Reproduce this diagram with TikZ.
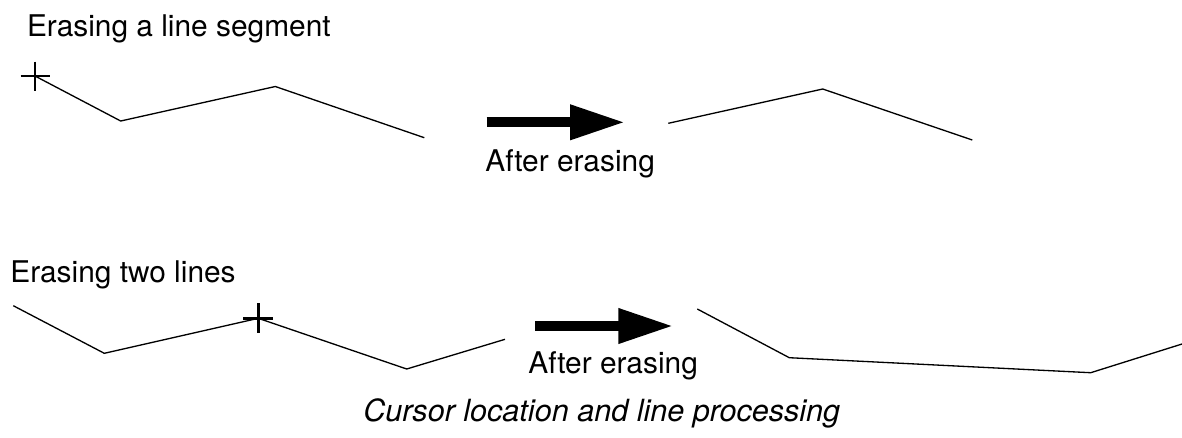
\documentclass[tikz,border=0pt]{standalone}
\usepackage{fontspec}
\setmainfont{TeX Gyre Heros}
\usepackage{tikz}
\usetikzlibrary{arrows.meta,calc}

\begin{document}
\begin{tikzpicture}[x=0.02cm, y=-0.02cm,
    every node/.style={inner sep=0pt, anchor=base west, font=\fontsize{17}{20}\selectfont},
    seg/.style={line width=0.75pt, line join=miter},
    cursor/.style={line width=1.4pt},
    bigarrow/.style={line width=0.2cm, -{Triangle[length=1.1cm, width=0.66cm]}}]
  \useasboundingbox (0,0) rectangle (1182,437);

  % labels
  \node (t1) at (26.7,36.7) {Erasing a line segment};
  \node (a1) at (485,171) {After erasing};
  \node (t2) at (10,282) {Erasing two lines};
  \node (a2) at (528,373) {After erasing};
  \node[font=\fontsize{17.4}{20}\selectfont\itshape] (cap) at (363,421.7) {Cursor location and line processing};

  % erasing a line segment
  \coordinate (p1) at (35,76);
  \draw[seg] (p1) -- (120.7,121) -- (275.3,86.5) -- (424.3,137.7);
  \draw[cursor] ($(p1)+(-14.5,0)$) -- ++(29,0) ($(p1)+(0,-14.5)$) -- ++(0,29);
  \coordinate (s1) at (486.7,122.3);
  \coordinate (e1) at (625,122.3);
  \draw[bigarrow] (s1) -- (e1);
  \draw[seg] (668.3,123.3) -- (822.7,89) -- (972.3,140);

  % erasing two lines
  \coordinate (p2) at (258.3,318.3);
  \draw[seg] (13.3,305.7) -- (104.3,353.3) -- (p2) -- (406.7,369) -- (505,339.3);
  \draw[cursor] ($(p2)+(-15,0)$) -- ++(30,0) ($(p2)+(0,-15)$) -- ++(0,30);
  \coordinate (s2) at (535,326);
  \coordinate (e2) at (673.3,326);
  \draw[bigarrow] (s2) -- (e2);
  \draw[seg] (697.3,309) -- (789.3,357.7) -- (1090.7,372.7) -- (1182,344);
\end{tikzpicture}
\end{document}
